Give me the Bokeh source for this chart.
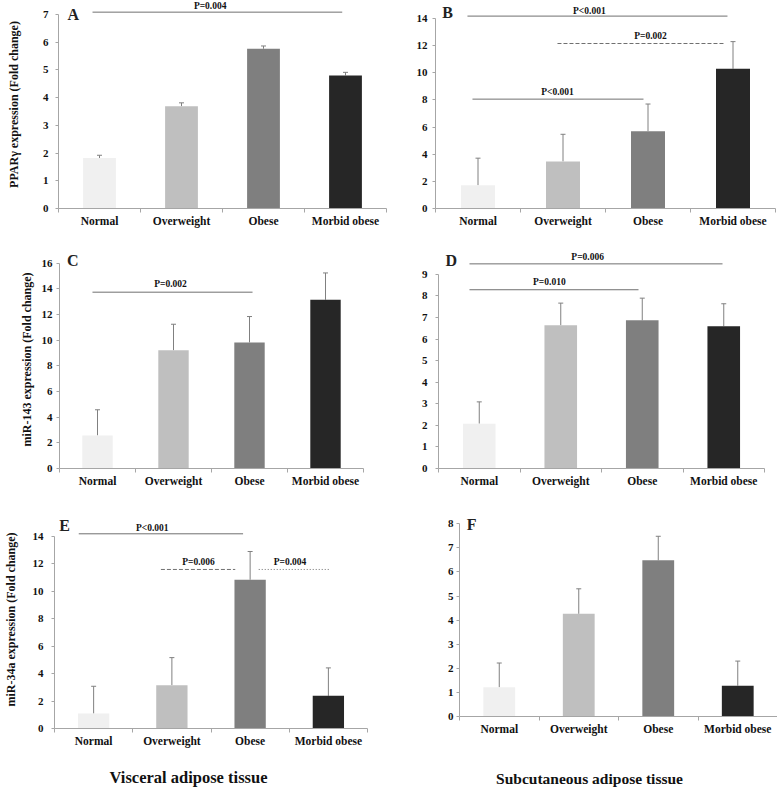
from bokeh.plotting import figure
from bokeh.layouts import column, row
from bokeh.models import ColumnDataSource, Range1d, FixedTicker, LinearAxis, Whisker, TeeHead
from bokeh.core.properties import value
from bokeh.embed import file_html
from bokeh.resources import INLINE

# groups and measured fold changes (mean, error)
groups = ["Normal", "Overweight", "Obese", "Morbid obese"]

pparg_visceral = [1.82, 3.69, 5.76, 4.80]
pparg_visceral_err = [0.10, 0.12, 0.10, 0.11]
pparg_subcut = [1.71, 3.47, 5.70, 10.30]
pparg_subcut_err = [2.0, 2.0, 2.0, 2.0]

mir143_visceral = [2.58, 9.22, 9.83, 13.16]
mir143_visceral_err = [2.0, 2.03, 2.02, 2.09]
mir143_subcut = [2.08, 6.64, 6.87, 6.60]
mir143_subcut_err = [1.01, 1.03, 1.03, 1.04]

mir34a_visceral = [1.09, 3.16, 10.85, 2.38]
mir34a_visceral_err = [1.99, 2.01, 2.06, 2.04]
mir34a_subcut = [1.21, 4.26, 6.48, 1.28]
mir34a_subcut_err = [1.01, 1.04, 1.00, 1.02]

tissues = ["Visceral adipose tissue", "Subcutaneous adipose tissue"]

# p-value brackets: label, x from, x to, line level, text x, text y, dash
sig_a = [("P=0.004", 0.915, 3.96, 7.08, 2.35, 7.29, "solid")]
sig_b = [("P<0.001", 0.876, 3.935, 14.18, 2.31, 14.59, "solid"),
         ("P=0.002", 1.935, 3.89, 12.16, 3.03, 12.75, "4 2"),
         ("P<0.001", 0.935, 2.947, 8.06, 1.935, 8.55, "solid")]
sig_c = [("P=0.002", 0.934, 3.04, 13.75, 1.96, 14.37, "solid")]
sig_d = [("P=0.006", 0.88, 3.985, 9.49, 2.33, 9.83, "solid"),
         ("P=0.010", 0.88, 2.954, 8.29, 1.86, 8.63, "solid")]
sig_e = [("P<0.001", 0.81, 2.91, 14.2, 1.75, 14.66, "solid"),
         ("P=0.006", 1.86, 2.81, 11.6, 2.34, 12.18, "4 2"),
         ("P=0.004", 3.11, 4.01, 11.6, 3.51, 12.18, "1 2")]
sig_f = []

FONT = "Liberation Serif"
BAR_COLORS = ["#f0f0f0", "#bfbfbf", "#7f7f7f", "#262626"]
AXIS_GREY = "#a6a6a6"
LINE_GREY = "#707070"


def panel(vals, errs, letter, letter_pos, sig, y_top, y_step, y_end, size, borders,
          tick_standoff, y_label=None, y_label_standoff=5):
    w, h = size
    left, right, top, bottom = borders
    p = figure(width=w, height=h, x_range=Range1d(0.5, 4.5), y_range=Range1d(0, y_end),
               x_axis_type=None, y_axis_type=None, output_backend="svg", toolbar_location=None,
               min_border_left=left, min_border_right=right, min_border_top=top, min_border_bottom=bottom)
    p.outline_line_color = None
    p.background_fill_color = "white"

    xs = list(range(1, len(groups) + 1))
    xaxis = LinearAxis(ticker=FixedTicker(ticks=xs, minor_ticks=[x - 0.5 for x in xs] + [xs[-1] + 0.5]),
                       major_label_overrides={x: g for x, g in zip(xs, groups)})
    xaxis.axis_line_color = AXIS_GREY
    xaxis.major_tick_line_color = None
    xaxis.major_tick_out = 4
    xaxis.major_tick_in = 0
    xaxis.minor_tick_line_color = AXIS_GREY
    xaxis.minor_tick_out = 4
    xaxis.minor_tick_in = 0
    xaxis.major_label_standoff = 2
    xaxis.major_label_text_font = FONT
    xaxis.major_label_text_font_style = "bold"
    xaxis.major_label_text_font_size = "11.5px"
    xaxis.major_label_text_color = "#111111"
    p.add_layout(xaxis, "below")

    yaxis = LinearAxis(ticker=FixedTicker(ticks=list(range(0, y_top + 1, y_step))), bounds=(0, y_top))
    yaxis.axis_line_color = AXIS_GREY
    yaxis.major_tick_line_color = AXIS_GREY
    yaxis.major_tick_out = 3
    yaxis.major_tick_in = 0
    yaxis.minor_tick_line_color = None
    yaxis.major_label_standoff = tick_standoff
    yaxis.major_label_text_font = FONT
    yaxis.major_label_text_font_style = "bold"
    yaxis.major_label_text_font_size = "11px"
    yaxis.major_label_text_color = "#111111"
    if y_label:
        yaxis.axis_label = y_label
        yaxis.axis_label_text_font = FONT
        yaxis.axis_label_text_font_style = "bold"
        yaxis.axis_label_text_font_size = "12px"
        yaxis.axis_label_text_color = "#111111"
        yaxis.axis_label_standoff = y_label_standoff
    p.add_layout(yaxis, "left")

    src = ColumnDataSource(dict(x=xs, group=groups, val=vals,
                                upper=[v + e for v, e in zip(vals, errs)], color=BAR_COLORS))
    p.vbar(x="x", top="val", width=0.4, fill_color="color", line_color=None, source=src)
    p.add_layout(Whisker(source=src, base="x", lower="val", upper="upper", dimension="height",
                         line_color="#808080", line_width=1,
                         upper_head=TeeHead(size=5, line_color="#808080", line_width=1),
                         lower_head=None))

    for label, x0, x1, yl, tx, ty, dash in sig:
        p.segment(x0=[x0], y0=[yl], x1=[x1], y1=[yl], line_color=LINE_GREY, line_width=1, line_dash=dash)
        p.text(x=[tx], y=[ty], text=[label], text_align="center", text_baseline="middle",
               text_font=value(FONT), text_font_style="bold", text_font_size="9.5px", text_color="#111111")

    p.text(x=[letter_pos[0]], y=[letter_pos[1]], text=[letter], text_align="left", text_baseline="middle",
           text_font=value(FONT), text_font_style="bold", text_font_size="16px", text_color="#222222")
    return p


def footer(text, width, height, cx, cy, size):
    # strip under each column carrying the tissue name
    f = figure(width=width, height=height, x_range=Range1d(0, width), y_range=Range1d(0, height),
               x_axis_type=None, y_axis_type=None, output_backend="svg", toolbar_location=None,
               min_border=0)
    f.outline_line_color = None
    f.text(x=[cx], y=[cy], text=[text], text_align="center", text_baseline="middle",
           text_font=value(FONT), text_font_style="bold", text_font_size=size, text_color="#111111")
    return f


pa = panel(pparg_visceral, pparg_visceral_err, "A", (0.61, 7.0), sig_a, 7, 1, 7.5,
           (395, 250), (58, 9, 0, 41), 7, y_label="PPARγ expression (Fold change)", y_label_standoff=19)
pb = panel(pparg_subcut, pparg_subcut_err, "B", (0.58, 14.44), sig_b, 14, 2, 15.33,
           (382, 250), (40, 2, 0, 42), 5)
pc = panel(mir143_visceral, mir143_visceral_err, "C", (0.60, 16.23), sig_c, 16, 2, 17.0,
           (395, 250), (59, 32, 0, 31), 4, y_label="miR-143 expression (Fold change)", y_label_standoff=5)
pd_ = panel(mir143_subcut, mir143_subcut_err, "D", (0.586, 9.65), sig_d, 9, 1, 10.11,
            (382, 250), (43, 13, 0, 32), 8)
pe = panel(mir34a_visceral, mir34a_visceral_err, "E", (0.56, 14.8), sig_e, 14, 2, 15.9,
           (395, 257), (47, 28, 10, 29), 8, y_label="miR-34a expression (Fold change)", y_label_standoff=12)
pf = panel(mir34a_subcut, mir34a_subcut_err, "F", (0.59, 7.97), sig_f, 8, 1, 8.55,
           (382, 257), (64, 0, 10, 41), 3)

fe = footer(tissues[0], 395, 32, 188, 12, "16.5px")
ff = footer(tissues[1], 382, 32, 194, 11, "15.5px")

layout = column(row(pa, pb), row(pc, pd_), row(column(pe), column(pf)), row(fe, ff))

open("out.html", "w").write(file_html(layout, INLINE))
